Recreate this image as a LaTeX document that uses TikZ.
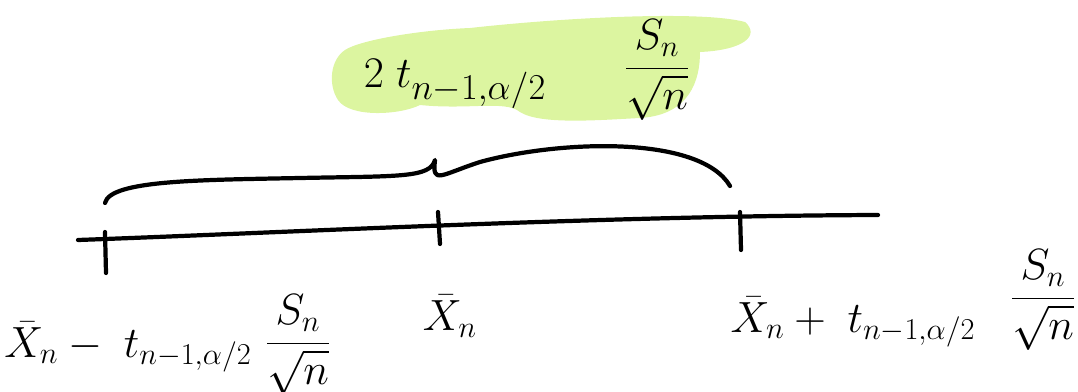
\documentclass[tikz,border=0pt]{standalone}
\usepackage{amsmath}
\begin{document}
\begin{tikzpicture}[x=0.02cm,y=-0.02cm,
  ink/.style={line width=2.4pt,line cap=round,line join=round,black},
  lab/.style={inner sep=0pt,anchor=center,font=\fontsize{25}{30}\selectfont}]
\definecolor{hl}{HTML}{DCF5A0}
\useasboundingbox (0,0) rectangle (1078,392);
% highlight
\fill[hl] (345,50) .. controls (360,40) and (420,30) .. (470,28)
  .. controls (560,18) and (700,10) .. (745,22)
  .. controls (760,35) and (745,50) .. (700,52)
  .. controls (700,80) and (690,115) .. (640,118)
  .. controls (600,120) and (540,125) .. (520,112)
  .. controls (505,100) and (470,110) .. (420,105)
  .. controls (400,115) and (350,118) .. (338,100)
  .. controls (328,85) and (330,60) .. (345,50) -- cycle;
% top label
\node[lab,font=\fontsize{30}{34}\selectfont] (top) at (455,84) {$2\;t_{n-1,\alpha/2}$};
\node[lab] (topf) at (657,70) {$\dfrac{S_n}{\sqrt{n}}$};
% number line
\coordinate (L) at (78,240);
\coordinate (R) at (878,215);
\draw[ink] (L) .. controls (300,232) and (600,216) .. (R);
\coordinate (t1a) at (105,232); \coordinate (t1b) at (106,273);
\coordinate (t2a) at (438,212); \coordinate (t2b) at (440,244);
\coordinate (t3a) at (740,212); \coordinate (t3b) at (741,250);
\draw[ink] (t1a) -- (t1b);
\draw[ink] (t2a) -- (t2b);
\draw[ink] (t3a) -- (t3b);
% brace
\coordinate (b1) at (105,203);
\coordinate (bm) at (435,160);
\coordinate (b2) at (730,186);
\draw[ink] (b1) .. controls (110,180) and (200,180) .. (300,178)
  .. controls (400,176) and (430,178) .. (bm)
  .. controls (432,185) and (440,175) .. (480,162)
  .. controls (560,140) and (700,135) .. (b2);
% bottom labels
\node[lab] (lx) at (128,347) {$\bar{X}_n-\;t_{n-1,\alpha/2}$};
\node[lab] (lf) at (298,345) {$\dfrac{S_n}{\sqrt{n}}$};
\node[lab] (mx) at (450,316) {$\bar{X}_n$};
\node[lab] (rx) at (853,322) {$\bar{X}_n+\;t_{n-1,\alpha/2}$};
\node[lab] (rf) at (1043,300) {$\dfrac{S_n}{\sqrt{n}}$};
\end{tikzpicture}
\end{document}
